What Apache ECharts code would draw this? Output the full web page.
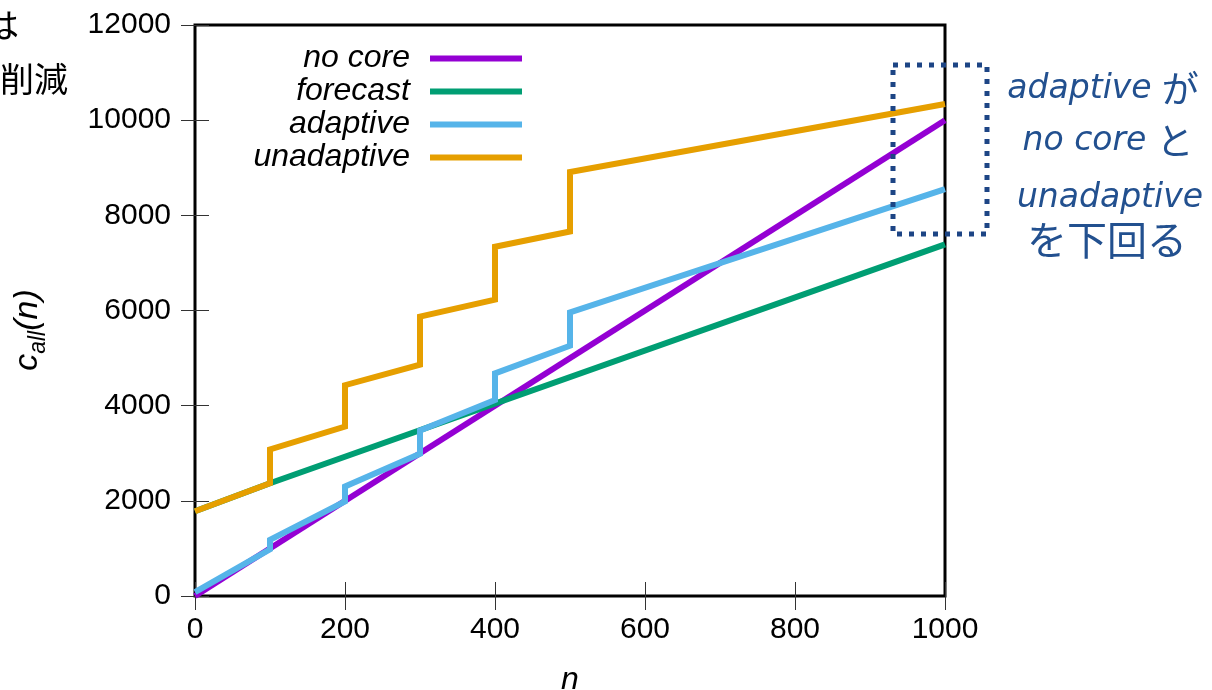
<!DOCTYPE html>
<html>
<head>
<meta charset="utf-8">
<script src="https://cdn.jsdelivr.net/npm/echarts@6/dist/echarts.min.js"></script>
<style>
  html, body { margin: 0; padding: 0; background: #fff; }
  #main { width: 1212px; height: 690px; }
</style>
</head>
<body>
<div id="main"></div>
<script>
// series names in legend order
const seriesNames = ['no core', 'forecast', 'adaptive', 'unadaptive'];

// n / c_all(n) points (steps repeat n)
const noCoreN = [0, 1000];
const noCoreC = [0, 10000];

const forecastN = [0, 100, 1000];
const forecastC = [1780, 2370, 7390];

const adaptiveN = [0, 100, 100, 200, 200, 300, 300, 400, 400, 500, 500, 1000];
const adaptiveC = [80, 980, 1180, 1990, 2300, 2990, 3480, 4120, 4680, 5260, 5960, 8550];

const unadaptiveN = [0, 100, 100, 200, 200, 300, 300, 400, 400, 500, 500, 1000];
const unadaptiveC = [1780, 2370, 3080, 3560, 4430, 4860, 5870, 6230, 7340, 7660, 8910, 10340];

const colors = ['#9400d3', '#009e73', '#56b4e9', '#e69f00'];

const pairs = (xs, ys) => xs.map((x, i) => [x, ys[i]]);
const seriesData = [
  pairs(noCoreN, noCoreC),
  pairs(forecastN, forecastC),
  pairs(adaptiveN, adaptiveC),
  pairs(unadaptiveN, unadaptiveC)
];

const myChart = echarts.init(document.getElementById('main'));

const sansFont = '"Liberation Sans", Arial, sans-serif';
const labelFont = { fontFamily: sansFont, fontSize: 30, color: '#000' };
const tickStyle = { show: true, inside: true, length: 14, lineStyle: { color: '#333', width: 1 } };
const noteColor = '#22508f';
const noteRich = {
  i: { fontFamily: '"DejaVu Sans", sans-serif', fontStyle: 'italic', fontSize: 33, fill: noteColor },
  j: { fontFamily: '"Noto Sans CJK JP", sans-serif', fontSize: 37, fill: noteColor },
  g: { width: 10 }
};

const option = {
  animation: false,
  backgroundColor: '#fff',
  grid: {
    left: 195,
    right: 267,
    top: 25,
    bottom: 94,
    containLabel: false,
    outerBoundsMode: 'none',
    show: true,
    borderColor: '#000',
    borderWidth: 3,
    backgroundColor: 'transparent'
  },
  legend: {
    data: seriesNames,
    orient: 'vertical',
    align: 'right',
    right: 685,
    top: 37,
    icon: 'rect',
    itemWidth: 92,
    itemHeight: 6,
    itemGap: 0,
    textStyle: {
      fontFamily: sansFont,
      fontStyle: 'italic',
      fontSize: 32,
      lineHeight: 33,
      color: '#000',
      padding: [0, 15, 0, 0]
    }
  },
  xAxis: [
    {
      type: 'value',
      min: 0,
      max: 1000,
      interval: 200,
      axisLine: { show: false },
      axisTick: tickStyle,
      splitLine: { show: false },
      axisLabel: Object.assign({ margin: 19, formatter: v => String(v) }, labelFont),
      name: 'n',
      nameLocation: 'middle',
      nameGap: 68,
      nameTextStyle: { fontFamily: sansFont, fontStyle: 'italic', fontSize: 32, color: '#000' }
    },
    {
      type: 'value',
      position: 'top',
      min: 0,
      max: 1000,
      interval: 200,
      axisLine: { show: false },
      axisTick: tickStyle,
      splitLine: { show: false },
      axisLabel: { show: false }
    }
  ],
  yAxis: [
    {
      type: 'value',
      min: 0,
      max: 12000,
      interval: 2000,
      axisLine: { show: false },
      axisTick: tickStyle,
      splitLine: { show: false },
      axisLabel: Object.assign({ margin: 24, formatter: v => String(v) }, labelFont)
    },
    {
      type: 'value',
      position: 'right',
      min: 0,
      max: 12000,
      interval: 2000,
      axisLine: { show: false },
      axisTick: tickStyle,
      splitLine: { show: false },
      axisLabel: { show: false }
    }
  ],
  series: seriesNames.map((name, i) => ({
    name: name,
    type: 'line',
    data: seriesData[i],
    symbol: 'none',
    color: colors[i],
    lineStyle: { width: 6, color: colors[i], join: 'miter', cap: 'butt' },
    z: 2 + i
  })),
  graphic: [
    // y axis title c_all(n)
    {
      type: 'text',
      x: 28,
      y: 330,
      rotation: Math.PI / 2,
      style: {
        text: '{c|c}{s|all}{c|(n)}',
        align: 'center',
        verticalAlign: 'middle',
        fill: '#000',
        rich: {
          c: { fontFamily: sansFont, fontStyle: 'italic', fontSize: 34, lineHeight: 44, verticalAlign: 'middle' },
          s: { fontFamily: sansFont, fontStyle: 'italic', fontSize: 23, lineHeight: 23, padding: [18, 0, 0, 0], verticalAlign: 'bottom' }
        }
      }
    },
    // slide text cut off at the left edge
    {
      type: 'text',
      x: 19,
      y: 25,
      style: { text: 'は', align: 'right', verticalAlign: 'middle', fill: '#000', fontSize: 34, fontFamily: '"Noto Sans CJK JP", sans-serif' }
    },
    {
      type: 'text',
      x: 68,
      y: 79,
      style: { text: '削減', align: 'right', verticalAlign: 'middle', fill: '#000', fontSize: 34, fontFamily: '"Noto Sans CJK JP", sans-serif' }
    },
    // dotted highlight box
    {
      type: 'rect',
      shape: { x: 893, y: 65, width: 94, height: 169 },
      style: { fill: 'none', stroke: '#1d4585', lineWidth: 5, lineDash: [5, 7] },
      z: 10
    },
    // annotation
    {
      type: 'text',
      x: 1103,
      y: 89,
      style: { text: '{i|adaptive}{g|}{j|が}', align: 'center', verticalAlign: 'middle', fill: noteColor, rich: noteRich }
    },
    {
      type: 'text',
      x: 1108,
      y: 141,
      style: { text: '{i|no core}{g|}{j|と}', align: 'center', verticalAlign: 'middle', fill: noteColor, rich: noteRich }
    },
    {
      type: 'text',
      x: 1110,
      y: 198,
      style: { text: '{i|unadaptive}', align: 'center', verticalAlign: 'middle', fill: noteColor, rich: noteRich }
    },
    {
      type: 'text',
      x: 1107,
      y: 240,
      style: {
        text: 'を下回る',
        align: 'center',
        verticalAlign: 'middle',
        fill: noteColor,
        fontFamily: '"Noto Sans CJK JP", sans-serif',
        fontSize: 40
      }
    }
  ]
};

myChart.setOption(option);
</script>
</body>
</html>
